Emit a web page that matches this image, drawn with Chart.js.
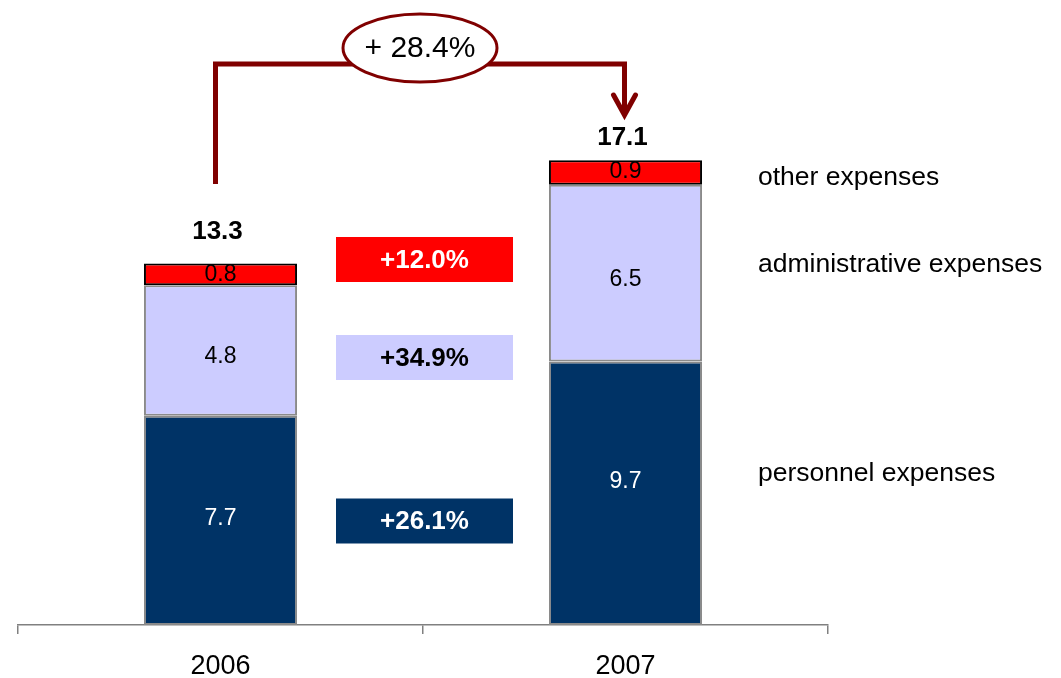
<!DOCTYPE html>
<html><head><meta charset="utf-8">
<script src="https://cdn.jsdelivr.net/npm/chart.js@4/dist/chart.umd.min.js"></script>
<style>html,body{margin:0;padding:0;background:#fff;overflow:hidden}</style>
</head><body>
<canvas id="c" width="1061" height="678" style="width:1061px;height:678px;display:block"></canvas>
<script>
const categories = ['2006', '2007'];
const personnel = [7.7, 9.7];
const administrative = [4.8, 6.5];
const other = [0.8, 0.9];
const totals = [13.3, 17.1];
const seriesNames = ['personnel expenses', 'administrative expenses', 'other expenses'];
const changeLabels = ['+26.1%', '+34.9%', '+12.0%'];
const totalChange = '+ 28.4%';

const FONT = '"Liberation Sans", Arial, Helvetica, sans-serif';
const NAVY = '#003366', LAV = '#CCCCFF', RED = '#FF0000', MAROON = '#800000';

const overlay = {
  id: 'overlay',
  afterDatasetsDraw(chart) {
    const ctx = chart.ctx;
    const xs = chart.scales.x, ys = chart.scales.y;
    ctx.save();
    ctx.textAlign = 'center';
    ctx.textBaseline = 'middle';
    // segment labels
    const segColors = ['#FFFFFF', '#000000', '#000000'];
    const segOffsets = [[-2, -12], [6, 7], [0, -1]];
    chart.data.datasets.forEach((ds, di) => {
      const meta = chart.getDatasetMeta(di);
      meta.data.forEach((el, i) => {
        ctx.font = '23px ' + FONT;
        ctx.fillStyle = segColors[di];
        ctx.fillText(String(ds.data[i].toFixed(1)), el.x, (el.y + el.base) / 2 + segOffsets[di][i]);
      });
    });
    // totals
    const totalGap = [32, 22];
    ctx.font = 'bold 26px ' + FONT;
    ctx.fillStyle = '#000';
    totals.forEach((t, i) => {
      const x = xs.getPixelForValue(i);
      ctx.fillText(t.toFixed(1), x - 3, ys.getPixelForValue(t) - totalGap[i]);
    });
    // change boxes
    const midX = (xs.getPixelForValue(0) + xs.getPixelForValue(1)) / 2 + 1.5;
    const boxY = [521, 357.5, 259.5];
    const boxFill = [NAVY, LAV, RED];
    const boxText = ['#FFFFFF', '#000000', '#FFFFFF'];
    changeLabels.forEach((lab, i) => {
      ctx.fillStyle = boxFill[i];
      ctx.fillRect(midX - 88.5, boxY[i] - 22.5, 177, 45);
      ctx.fillStyle = boxText[i];
      ctx.font = 'bold 26px ' + FONT;
      ctx.fillText(lab, midX, boxY[i] + 1);
    });
    // series labels on the right
    const nameY = [474, 265, 178];
    ctx.textAlign = 'left';
    ctx.font = '26.5px ' + FONT;
    ctx.fillStyle = '#000';
    seriesNames.forEach((n, i) => ctx.fillText(n, 758, nameY[i]));
    // growth arrow
    const xL = xs.getPixelForValue(0) - 5, xR = xs.getPixelForValue(1) - 1;
    const topY = 64, leftBottom = 184, tipY = 117;
    ctx.strokeStyle = MAROON;
    ctx.lineWidth = 5;
    ctx.lineCap = 'butt';
    ctx.lineJoin = 'miter';
    ctx.beginPath();
    ctx.moveTo(xL, leftBottom);
    ctx.lineTo(xL, topY);
    ctx.lineTo(xR, topY);
    ctx.lineTo(xR, tipY - 4);
    ctx.stroke();
    ctx.lineWidth = 5;
    ctx.lineCap = 'round';
    ctx.beginPath();
    ctx.moveTo(xR - 11, tipY - 22);
    ctx.lineTo(xR, tipY - 2);
    ctx.lineTo(xR + 11, tipY - 22);
    ctx.stroke();
    // ellipse
    ctx.beginPath();
    ctx.ellipse(420, 48, 77, 34, 0, 0, Math.PI * 2);
    ctx.fillStyle = '#fff';
    ctx.fill();
    ctx.lineWidth = 3;
    ctx.strokeStyle = MAROON;
    ctx.stroke();
    ctx.textAlign = 'center';
    ctx.fillStyle = '#000';
    ctx.font = '30px ' + FONT;
    ctx.fillText(totalChange, 420, 49);
    ctx.restore();
  }
};

new Chart(document.getElementById('c'), {
  type: 'bar',
  data: {
    labels: categories,
    datasets: [
      { label: seriesNames[0], data: personnel, backgroundColor: NAVY, borderColor: '#8a8a8a', borderWidth: 2, borderSkipped: false },
      { label: seriesNames[1], data: administrative, backgroundColor: LAV, borderColor: '#8a8a8a', borderWidth: 2, borderSkipped: false },
      { label: seriesNames[2], data: other, backgroundColor: RED, borderColor: '#000000', borderWidth: 2, borderSkipped: false }
    ]
  },
  options: {
    responsive: false,
    animation: false,
    devicePixelRatio: 1,
    layout: { padding: { left: 18, right: 233, top: 0, bottom: 0 } },
    plugins: { legend: { display: false }, tooltip: { enabled: false } },
    datasets: { bar: { categoryPercentage: 1, barPercentage: 0.378 } },
    scales: {
      x: {
        stacked: true,
        grid: { display: true, offset: true, drawOnChartArea: false, drawTicks: true, tickLength: 9, color: '#808080', lineWidth: 1.5 },
        border: { display: true, color: '#808080', width: 1.5 },
        ticks: { color: '#000', font: { family: FONT, size: 27 }, padding: 16 },
        afterFit(scale) { scale.height = 53; }
      },
      y: {
        stacked: true, display: false, min: 0, max: 23
      }
    }
  },
  plugins: [overlay]
});
</script>
</body></html>
